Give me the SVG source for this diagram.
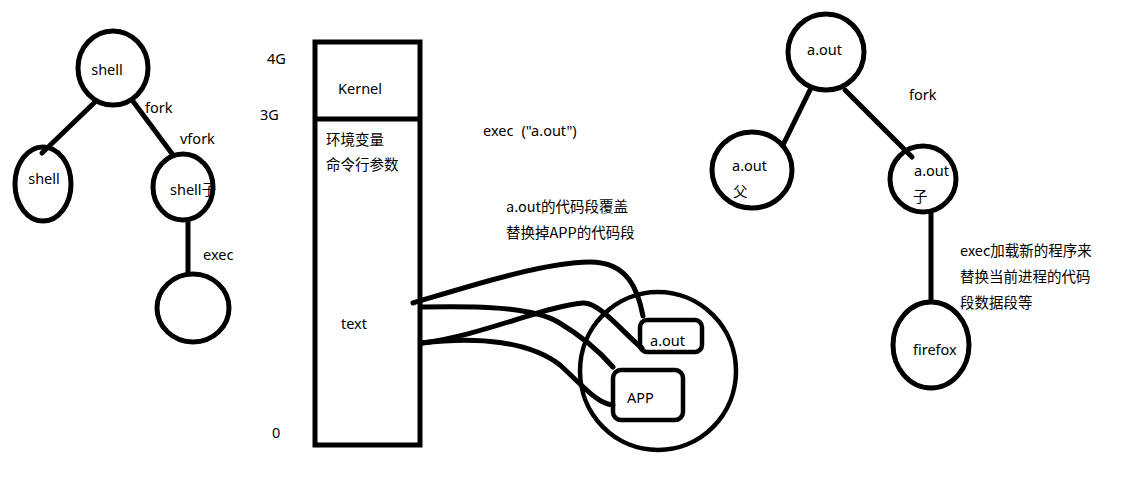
<svg xmlns="http://www.w3.org/2000/svg" width="1128" height="482" viewBox="0 0 1128 482">
<style>
.n{fill:none;stroke:#000;stroke-width:5}
.c{fill:none;stroke:#000;stroke-width:5;stroke-linecap:round;stroke-linejoin:round}
.t{font-family:"Noto Sans","Noto Sans CJK SC",sans-serif;font-size:14.5px;fill:#000}
.z{font-family:"Noto Sans CJK SC","Noto Sans",sans-serif;font-size:14.5px;fill:#000}
</style>
<rect width="1128" height="482" fill="#fff"/>
<g id="connectors">
<line class="c" x1="95" y1="102" x2="42" y2="153"/>
<line class="c" x1="132" y1="100" x2="173" y2="155"/>
<line class="c" x1="188" y1="221" x2="188" y2="272"/>
<line class="c" x1="810" y1="90" x2="783" y2="145"/>
<line class="c" x1="845" y1="90" x2="912" y2="157"/>
<line class="c" x1="931" y1="212" x2="931" y2="301"/>
<path class="c" d="M413,303 C470,286 545,262 590,262 C628,262 638,290 643,316"/>
<path class="c" d="M422,307 C470,306 530,306 558,322 C585,338 600,352 613,367"/>
<path class="c" d="M422,343 C480,336 545,306 583,303 C600,302 625,335 642,348"/>
<path class="c" d="M422,343 C480,336 530,342 560,365 C585,388 598,404 613,405"/>
</g>
<g id="label-fork-left"><text class="t" x="145" y="113">fork</text></g>
<g id="label-vfork"><text class="t" x="180" y="144">vfork</text></g>
<g id="label-exec-left"><text class="t" x="203" y="260">exec</text></g>
<g id="node-shell-top"><ellipse class="n" cx="113" cy="68" rx="35" ry="37"/><text class="t" x="107" y="75" text-anchor="middle">shell</text></g>
<g id="node-shell-left"><ellipse class="n" cx="43" cy="184" rx="28" ry="37"/><text class="t" x="44" y="184" text-anchor="middle">shell</text></g>
<g id="node-shell-child"><ellipse class="n" cx="183" cy="187" rx="30" ry="33"/><text class="t" x="170" y="195">shell子</text></g>
<g id="node-empty"><ellipse class="n" cx="193" cy="308" rx="36" ry="34"/></g>
<g id="memory">
<rect class="n" x="315" y="42" width="105" height="403"/>
<line class="n" x1="315" y1="119" x2="420" y2="119"/>
<text class="t" x="267" y="64">4G</text>
<text class="t" x="260" y="120">3G</text>
<text class="t" x="272" y="438">0</text>
<text class="t" x="338" y="94">Kernel</text>
<text class="z" x="326" y="145">环境变量</text>
<text class="z" x="326" y="170">命令行参数</text>
<text class="t" x="341" y="329">text</text>
</g>
<g id="label-exec-aout"><text class="t" x="483" y="136">exec<tspan dx="8">("a.out")</tspan></text></g>
<g id="label-cover"><text class="z" x="506" y="212">a.out的代码段覆盖</text><text class="z" x="506" y="238">替换掉APP的代码段</text></g>
<g id="node-process"><ellipse class="n" cx="658" cy="371" rx="78" ry="79" style="stroke-width:4.5"/></g>
<g id="node-aout-box"><rect class="n" x="640" y="320" width="62" height="32" rx="7" style="stroke-width:4.5"/><text class="t" x="650" y="346">a.out</text></g>
<g id="node-app-box"><rect class="n" x="613" y="370" width="70" height="50" rx="8" style="stroke-width:4.5"/><text class="t" x="627" y="403">APP</text></g>
<g id="node-aout-top"><ellipse class="n" cx="826" cy="52" rx="38" ry="38"/><text class="t" x="807" y="55">a.out</text></g>
<g id="label-fork-right"><text class="t" x="909" y="100">fork</text></g>
<g id="node-aout-parent"><ellipse class="n" cx="752" cy="170" rx="40" ry="38"/><text class="t" x="732" y="171">a.out</text><text class="z" x="733" y="197">父</text></g>
<g id="node-aout-child"><ellipse class="n" cx="923" cy="179" rx="33" ry="33"/><text class="t" x="914" y="176">a.out</text><text class="z" x="913" y="202">子</text></g>
<g id="label-exec-right"><text class="z" x="960" y="256">exec加载新的程序来</text><text class="z" x="960" y="282">替换当前进程的代码</text><text class="z" x="960" y="308">段数据段等</text></g>
<g id="node-firefox"><ellipse class="n" cx="931" cy="345" rx="38" ry="43"/><text class="t" x="913" y="355">firefox</text></g>
</svg>
